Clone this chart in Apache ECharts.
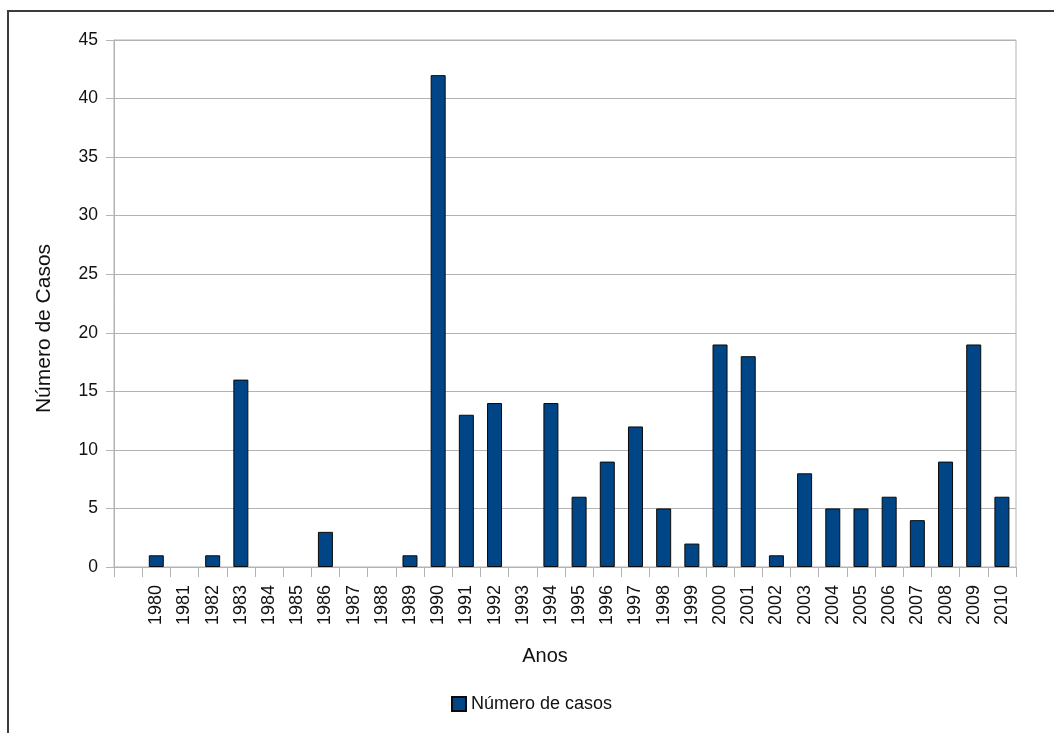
<!DOCTYPE html>
<html>
<head>
<meta charset="utf-8">
<script src="https://cdn.jsdelivr.net/npm/echarts@6/dist/echarts.min.js"></script>
<style>
  html, body { margin: 0; padding: 0; background: #fff; }
  #chart { width: 1054px; height: 733px; }
</style>
</head>
<body>
<div id="chart"></div>
<script>
// Year categories; the leading blank slot leaves an empty band before 1980
const years = ['', '1980', '1981', '1982', '1983', '1984', '1985', '1986', '1987', '1988', '1989',
  '1990', '1991', '1992', '1993', '1994', '1995', '1996', '1997', '1998', '1999',
  '2000', '2001', '2002', '2003', '2004', '2005', '2006', '2007', '2008', '2009', '2010'];

// Number of cases per year (null for the blank slot)
const cases = [null, 1, 0, 1, 16, 0, 0, 3, 0, 0, 1,
  42, 13, 14, 0, 14, 6, 9, 12, 5, 2,
  19, 18, 1, 8, 5, 5, 6, 4, 9, 19, 6];

const seriesName = 'Número de casos';
const xTitle = 'Anos';
const yTitle = 'Número de Casos';

const font = 'Liberation Sans, Arial, sans-serif';
const gridGray = '#b3b3b3';
const barFill = '#004586';

// Zero-count years get no outline so nothing shows on the baseline
const barData = cases.map(v => (v === 0
  ? { value: v, itemStyle: { borderWidth: 0, opacity: 0 } }
  : v));

const chart = echarts.init(document.getElementById('chart'), null, { renderer: 'canvas' });

chart.setOption({
  animation: false,
  backgroundColor: '#ffffff',
  textStyle: { fontFamily: font },
  grid: {
    left: 114, right: 38, top: 40, bottom: 166,
    show: true, borderColor: gridGray, borderWidth: 1,
    outerBoundsMode: 'none'
  },
  legend: {
    left: 451, top: 695, padding: 0,
    icon: 'rect', itemWidth: 14, itemHeight: 14,
    textStyle: { fontSize: 18, color: '#111', fontFamily: font },
    data: [seriesName]
  },
  xAxis: {
    type: 'category',
    data: years,
    boundaryGap: true,
    name: xTitle,
    nameLocation: 'middle',
    nameGap: 79,
    nameTextStyle: { fontSize: 20, color: '#111', fontFamily: font, padding: [0, 40, 0, 0] },
    axisLine: { show: true, lineStyle: { color: gridGray, width: 1 } },
    axisTick: { show: true, interval: 0, length: 10, lineStyle: { color: gridGray } },
    axisLabel: { interval: 0, rotate: 90, margin: 18, fontSize: 18, color: '#111', fontFamily: font },
    splitLine: { show: false }
  },
  yAxis: {
    type: 'value',
    min: 0, max: 45, interval: 5,
    name: yTitle,
    nameLocation: 'middle',
    nameRotate: 90,
    nameGap: 59,
    nameTextStyle: { fontSize: 21, color: '#111', fontFamily: font, padding: [0, 50, 0, 0] },
    axisLine: { show: true, lineStyle: { color: gridGray, width: 1 } },
    axisTick: { show: true, length: 8, lineStyle: { color: gridGray } },
    axisLabel: { margin: 16, fontSize: 17.5, color: '#111', fontFamily: font },
    splitLine: { show: true, lineStyle: { color: gridGray, width: 1 } }
  },
  series: [{
    name: seriesName,
    type: 'bar',
    data: barData,
    barWidth: 15,
    itemStyle: { color: barFill, borderColor: '#0a0a0a', borderWidth: 1 }
  }],
  graphic: [{
    type: 'polyline',
    silent: true,
    shape: { points: [[8, 733], [8, 11], [1054, 11]] },
    style: { stroke: '#3c3c3c', lineWidth: 2, fill: null }
  }]
});
</script>
</body>
</html>
